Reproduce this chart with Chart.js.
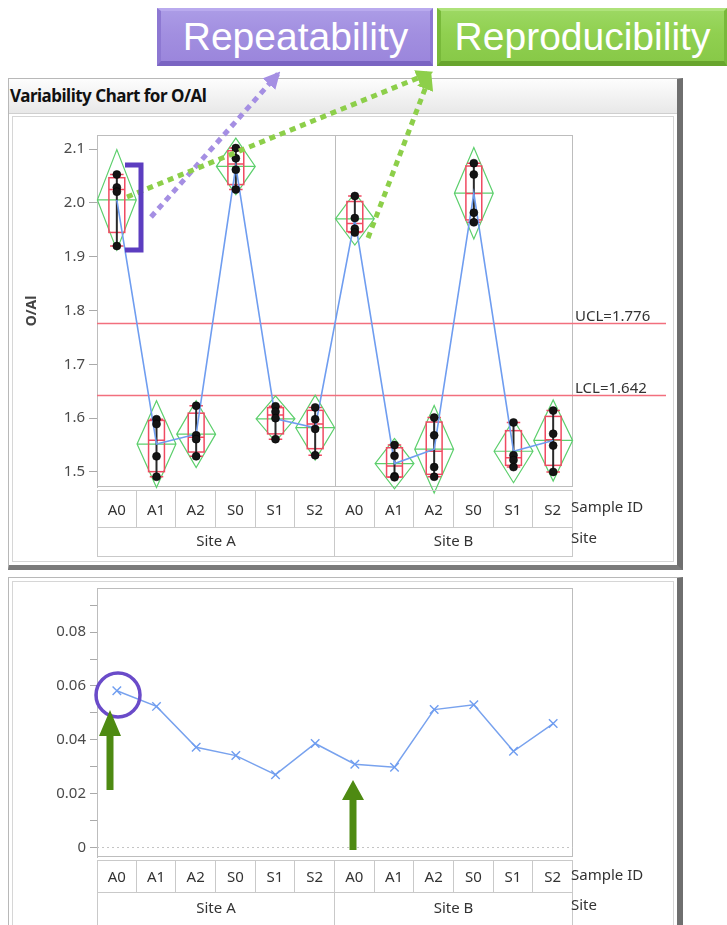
<!DOCTYPE html>
<html>
<head>
<meta charset="utf-8">
<script src="https://cdn.jsdelivr.net/npm/chart.js@4.4.0/dist/chart.umd.min.js"></script>
<style>
  html, body { margin: 0; padding: 0; }
  body { width: 727px; height: 925px; overflow: hidden; background: #fff; position: relative; font-family: "Noto Sans", sans-serif; }
  .btn { position: absolute; top: 8px; height: 58px; box-sizing: border-box; color: #fff;
         font: 39px "Liberation Sans", Arial, sans-serif; text-align: center; line-height: 52px; white-space: nowrap; }
  #btnRep { left: 157px; width: 276px; background: linear-gradient(#ab9be6, #a28fe0 45%, #9b86dc);
            border-top: 3px solid #b9aaee; border-left: 4px solid #8d78d2; border-right: 3px solid #8d78d2; border-bottom: 5px solid #7a64c2; }
  #btnRep2 { left: 437px; width: 290px; background: linear-gradient(#9cd862, #90d050 45%, #88c948);
            border-top: 3px solid #aee27a; border-left: 4px solid #78b93a; border-right: 3px solid #78b93a; border-bottom: 5px solid #68a52d; }
  .panel { position: absolute; background: #fff; box-sizing: border-box;
           border: 1px solid #b8b8b8; border-right: 6px solid #6f6f6f; border-bottom: 5px solid #7b7b7b; }
  #panelTop { left: 8px; top: 78px; width: 675px; height: 492px; }
  #panelBottom { left: 8px; top: 577px; width: 675px; height: 370px; }
  .titlebar { position: absolute; left: 0; top: 0; right: 0; height: 34px; background: linear-gradient(#fdfdfd, #e8e8e8); border-bottom: 1px solid #cfcfcf; }
  .title { position: absolute; left: 1px; top: 5px; font: bold 17px "Noto Sans", sans-serif; color: #111; letter-spacing: -0.5px; }
  .inner { position: absolute; left: 3px; right: 3px; bottom: 3px; border: 1px solid #d6d6d6; }
  canvas { position: absolute; }
  #cvTop { left: 12px; top: 122px; }
  #cvBottom { left: 12px; top: 578px; }
  .cell { position: absolute; box-sizing: border-box; border-right: 1px solid #c9c9c9; border-bottom: 1px solid #c9c9c9;
          text-align: center; font: 15px "Noto Sans", sans-serif; color: #333; }
  .rowlab { position: absolute; font: 15px "Noto Sans", sans-serif; color: #333; white-space: nowrap; }
  #notes { position: absolute; left: 0; top: 0; }
</style>
</head>
<body>
<div class="btn" id="btnRep">Repeatability</div>
<div class="btn" id="btnRep2">Reproducibility</div>

<div class="panel" id="panelTop">
  <div class="titlebar"><div class="title">Variability Chart for O/Al</div></div>
  <div class="inner" style="top:37px"></div>
</div>
<div class="panel" id="panelBottom">
  <div class="inner" style="top:3px"></div>
</div>

<canvas id="cvTop" width="656" height="378"></canvas>
<canvas id="cvBottom" width="656" height="292"></canvas>
<div id="tables"></div>

<svg id="notes" width="727" height="925" viewBox="0 0 727 925">
  <defs>
    <marker id="tipPurple" viewBox="0 0 10 10" refX="8" refY="5" markerWidth="3.4" markerHeight="3.4" orient="auto">
      <path d="M0,0 L10,5 L0,10 z" fill="#a58fe3"/>
    </marker>
    <marker id="tipGreen" viewBox="0 0 10 10" refX="8" refY="5" markerWidth="3.4" markerHeight="3.4" orient="auto">
      <path d="M0,0 L10,5 L0,10 z" fill="#8dcf4a"/>
    </marker>
  </defs>
  <line x1="151" y1="217" x2="278" y2="74" stroke="#a58fe3" stroke-width="5" stroke-dasharray="6 5" marker-end="url(#tipPurple)"/>
  <line x1="127" y1="197" x2="430" y2="73" stroke="#8dcf4a" stroke-width="5" stroke-dasharray="6 5" marker-end="url(#tipGreen)"/>
  <line x1="368" y1="238" x2="430" y2="76" stroke="#8dcf4a" stroke-width="5" stroke-dasharray="6 5" marker-end="url(#tipGreen)"/>
  <path d="M125,165 H141 V250 H125" fill="none" stroke="#5c3dc0" stroke-width="5"/>
  <circle cx="118" cy="695" r="22" fill="none" stroke="#6a4bc9" stroke-width="3.5"/>
  <path d="M106.5,790 V736 H99 L110,710 L121,736 H113.5 V790 Z" fill="#4e8a12"/>
  <path d="M349.5,850 V800 H342 L353,780 L364,800 H356.5 V850 Z" fill="#4e8a12"/>
</svg>

<script>
// Sample IDs within each site, and the sites
const sampleIds = ['A0', 'A1', 'A2', 'S0', 'S1', 'S2'];
const siteNames = ['Site A', 'Site B'];

// O/Al readings per sample (four repeats each)
const readingsSiteA = [
  [2.053, 2.029, 2.021, 1.920],
  [1.598, 1.589, 1.529, 1.491],
  [1.623, 1.568, 1.561, 1.529],
  [2.102, 2.083, 2.062, 2.025],
  [1.622, 1.612, 1.600, 1.561],
  [1.620, 1.598, 1.580, 1.531]
];
const readingsSiteB = [
  [2.013, 1.972, 1.952, 1.945],
  [1.550, 1.530, 1.492, 1.490],
  [1.601, 1.568, 1.509, 1.491],
  [2.074, 2.053, 1.982, 1.964],
  [1.592, 1.531, 1.522, 1.509],
  [1.614, 1.571, 1.549, 1.500]
];

// Standard deviation of each sample
const stdDevSiteA = [0.0582, 0.0524, 0.0372, 0.0341, 0.0270, 0.0386];
const stdDevSiteB = [0.0309, 0.0298, 0.0512, 0.0530, 0.0357, 0.0460];

// Axis ticks and control limits
const oalTicks = [1.5, 1.6, 1.7, 1.8, 1.9, 2.0, 2.1];
const stdDevTicks = [0, 0.01, 0.02, 0.03, 0.04, 0.05, 0.06, 0.07, 0.08, 0.09];
const UCL = 1.776;
const LCL = 1.642;

const cells = [...readingsSiteA, ...readingsSiteB];
const cellLabels = siteNames.flatMap(() => sampleIds);
const stdDevs = [...stdDevSiteA, ...stdDevSiteB];

const mean = a => a.reduce((s, v) => s + v, 0) / a.length;
const stdev = a => { const m = mean(a); return Math.sqrt(a.reduce((s, v) => s + (v - m) ** 2, 0) / (a.length - 1)); };
const T95 = 3.182; // two-sided 95% Student t, 3 degrees of freedom
function quantile(sorted, p) {
  let pos = (sorted.length + 1) * p - 1;
  pos = Math.max(0, Math.min(sorted.length - 1, pos));
  const lo = Math.floor(pos), hi = Math.ceil(pos);
  return sorted[lo] + (pos - lo) * (sorted[hi] - sorted[lo]);
}

const tickFont = { family: 'Noto Sans', size: 15 };
const tickColor = '#4a4a4a';

// Frame, site divider, control limits, mean diamonds and box plots
const variabilityDecor = {
  id: 'variabilityDecor',
  beforeDatasetsDraw(chart) {
    const { ctx, chartArea: a, scales: { x, y } } = chart;
    ctx.save();
    ctx.strokeStyle = '#bdbdbd';
    ctx.lineWidth = 1;
    ctx.strokeRect(a.left + 0.5, a.top + 0.5, a.right - a.left - 1, a.bottom - a.top - 1);
    const xd = Math.round(x.getPixelForValue(5.5)) + 0.5;
    ctx.beginPath(); ctx.moveTo(xd, a.top); ctx.lineTo(xd, a.bottom); ctx.stroke();

    // control limits
    ctx.strokeStyle = '#f26f7e';
    ctx.lineWidth = 1.5;
    ctx.fillStyle = '#333';
    ctx.font = '15px "Noto Sans"';
    ctx.textBaseline = 'bottom';
    [['UCL', UCL], ['LCL', LCL]].forEach(([name, v]) => {
      const py = y.getPixelForValue(v);
      ctx.beginPath(); ctx.moveTo(a.left, py); ctx.lineTo(chart.width - 2, py); ctx.stroke();
      ctx.fillText(name + '=' + v.toFixed(3), a.right + 2, py + 1);
    });

    cells.forEach((r, i) => {
      const s = [...r].sort((p, q) => p - q);
      const m = mean(r);
      const ci = T95 * stdev(r) / Math.sqrt(r.length);
      const cx = x.getPixelForValue(i);
      const xl = x.getPixelForValue(i - 0.49), xr = x.getPixelForValue(i + 0.49);
      // mean diamond
      ctx.strokeStyle = '#5ccf6c';
      ctx.lineWidth = 1.2;
      ctx.beginPath();
      ctx.moveTo(xl, y.getPixelForValue(m));
      ctx.lineTo(cx, y.getPixelForValue(m + ci));
      ctx.lineTo(xr, y.getPixelForValue(m));
      ctx.lineTo(cx, y.getPixelForValue(m - ci));
      ctx.closePath();
      ctx.moveTo(xl, y.getPixelForValue(m));
      ctx.lineTo(xr, y.getPixelForValue(m));
      ctx.stroke();
      // box plot
      const q1 = quantile(s, 0.25), q3 = quantile(s, 0.75), med = quantile(s, 0.5);
      const bl = x.getPixelForValue(i - 0.2), br = x.getPixelForValue(i + 0.2);
      const cl = x.getPixelForValue(i - 0.17), cr = x.getPixelForValue(i + 0.17);
      ctx.strokeStyle = '#f04a62';
      ctx.lineWidth = 1.5;
      ctx.strokeRect(bl, y.getPixelForValue(q3), br - bl, y.getPixelForValue(q1) - y.getPixelForValue(q3));
      ctx.beginPath();
      ctx.moveTo(bl, y.getPixelForValue(med)); ctx.lineTo(br, y.getPixelForValue(med));
      ctx.moveTo(cl, y.getPixelForValue(s[0])); ctx.lineTo(cr, y.getPixelForValue(s[0]));
      ctx.moveTo(cl, y.getPixelForValue(s[s.length - 1])); ctx.lineTo(cr, y.getPixelForValue(s[s.length - 1]));
      ctx.stroke();
      // range line
      ctx.strokeStyle = '#2a2a2a';
      ctx.lineWidth = 2;
      ctx.beginPath();
      ctx.moveTo(cx, y.getPixelForValue(s[0])); ctx.lineTo(cx, y.getPixelForValue(s[s.length - 1]));
      ctx.stroke();
    });
    ctx.restore();
  }
};

new Chart(document.getElementById('cvTop'), {
  type: 'scatter',
  data: {
    datasets: [
      {
        type: 'scatter',
        data: cells.flatMap((r, i) => r.map(v => ({ x: i, y: v }))),
        pointRadius: 4, backgroundColor: '#141414', borderColor: '#000', borderWidth: 0.5, order: 0
      },
      {
        type: 'line',
        data: cells.map((r, i) => ({ x: i, y: mean(r) })),
        borderColor: '#6f9df0', borderWidth: 1.6, pointRadius: 0, tension: 0, order: 1
      }
    ]
  },
  options: {
    responsive: false, animation: false, events: [],
    layout: { padding: { left: 0, right: 95, top: 13, bottom: 10 } },
    plugins: { legend: { display: false }, tooltip: { enabled: false } },
    scales: {
      x: { type: 'linear', min: -0.5, max: 11.5, display: false },
      y: {
        min: 1.472, max: 2.1264,
        afterBuildTicks: s => { s.ticks = oalTicks.map(v => ({ value: v })); },
        afterFit: s => { s.width = 85; },
        ticks: { color: tickColor, font: tickFont, padding: 4, callback: v => Number(v).toFixed(1) },
        grid: { drawOnChartArea: false, tickLength: 8, color: '#aaaaaa' },
        border: { color: '#bdbdbd' },
        title: { display: true, text: 'O/Al', color: '#444', font: { family: 'Noto Sans', size: 14, weight: 'bold' }, padding: { top: 12, bottom: 0 } }
      }
    }
  },
  plugins: [variabilityDecor]
});

// Frame and zero reference line for the std dev chart
const stdDevDecor = {
  id: 'stdDevDecor',
  beforeDatasetsDraw(chart) {
    const { ctx, chartArea: a, scales: { y } } = chart;
    ctx.save();
    ctx.strokeStyle = '#bdbdbd';
    ctx.lineWidth = 1;
    ctx.strokeRect(a.left + 0.5, a.top - 2.5, a.right - a.left - 1, a.bottom - a.top + 2);
    const y0 = Math.round(y.getPixelForValue(0)) + 0.5;
    ctx.setLineDash([2, 3]);
    ctx.strokeStyle = '#c4c4c4';
    ctx.beginPath(); ctx.moveTo(a.left, y0); ctx.lineTo(a.right, y0); ctx.stroke();
    ctx.restore();
  }
};

new Chart(document.getElementById('cvBottom'), {
  type: 'scatter',
  data: {
    datasets: [{
      type: 'line',
      data: stdDevs.map((v, i) => ({ x: i, y: v })),
      borderColor: '#78a2ee', borderWidth: 1.5, tension: 0,
      pointStyle: 'crossRot', pointRadius: 6, pointBorderColor: '#6f9df0', pointBorderWidth: 1.4
    }]
  },
  options: {
    responsive: false, animation: false, events: [],
    layout: { padding: { left: 0, right: 95, top: 10, bottom: 10 } },
    plugins: { legend: { display: false }, tooltip: { enabled: false } },
    scales: {
      x: { type: 'linear', min: -0.5, max: 11.5, display: false },
      y: {
        min: -0.0036, max: 0.0953,
        afterBuildTicks: s => { s.ticks = stdDevTicks.map(v => ({ value: v })); },
        afterFit: s => { s.width = 85; },
        ticks: {
          color: tickColor, font: tickFont, padding: 4,
          callback: v => { const h = Math.round(v * 100); return h % 2 ? '' : (h === 0 ? '0' : (h / 100).toFixed(2)); }
        },
        grid: { drawOnChartArea: false, tickLength: 7, color: '#aaaaaa' },
        border: { color: '#bdbdbd' }
      }
    }
  },
  plugins: [stdDevDecor]
});

// Sample ID / Site grouping rows below each chart
function buildGroupTable(top, h1, h2) {
  const host = document.getElementById('tables');
  const left = 97, width = 476, cw = width / cellLabels.length;
  const add = (cls, css, text) => {
    const d = document.createElement('div');
    d.className = cls; d.textContent = text;
    Object.assign(d.style, css);
    host.appendChild(d);
  };
  cellLabels.forEach((lab, i) => {
    add('cell', { left: (left + i * cw) + 'px', top: top + 'px', width: cw + 'px', height: h1 + 'px', lineHeight: (h1 - 2) + 'px',
                  borderLeft: i === 0 ? '1px solid #c9c9c9' : 'none', borderTop: '1px solid #c9c9c9' }, lab);
  });
  siteNames.forEach((site, j) => {
    const w = width / siteNames.length;
    add('cell', { left: (left + j * w) + 'px', top: (top + h1) + 'px', width: w + 'px', height: h2 + 'px', lineHeight: (h2 - 4) + 'px',
                  borderLeft: j === 0 ? '1px solid #c9c9c9' : 'none' }, site);
  });
  add('rowlab', { left: (left + width - 2) + 'px', top: (top + h1 / 2 - 13) + 'px' }, 'Sample ID');
  add('rowlab', { left: (left + width - 2) + 'px', top: (top + h1 + h2 / 2 - 16) + 'px' }, 'Site');
}
buildGroupTable(490, 38, 29);
buildGroupTable(860, 33, 33);
</script>
</body>
</html>
